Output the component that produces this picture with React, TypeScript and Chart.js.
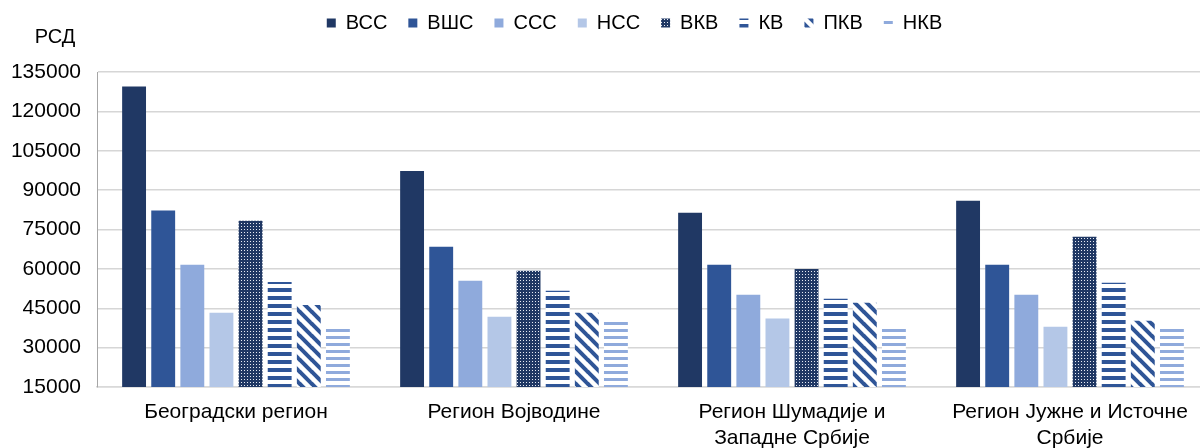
import React, { useEffect, useRef } from "react";
import { Chart, registerables } from "chart.js";

Chart.register(...registerables);

// ---- data ----
const categories: (string | string[])[] = [
  "Београдски регион",
  "Регион Војводине",
  ["Регион Шумадије и", "Западне Србије"],
  ["Регион Јужне и Источне", "Србије"],
];
const seriesNames = ["ВСС", "ВШС", "ССС", "НСС", "ВКВ", "КВ", "ПКВ", "НКВ"];
const vss = [129500, 97300, 81400, 86000];
const vshs = [82200, 68400, 61600, 61600];
const sss = [61600, 55500, 50100, 50100];
const nss = [43300, 41800, 41100, 38000];
const vkv = [78300, 59300, 60000, 72200];
const kv = [55000, 51700, 48600, 54700];
const pkv = [46200, 43300, 47100, 40200];
const nkv = [38000, 41000, 38300, 38300];
const yMin = 15000;
const yMax = 135000;
const yStep = 15000;
const unitLabel = "РСД";

const FONT = "'Liberation Sans', Arial, sans-serif";

function dotPattern(bg: string, fg: string) {
  const c = document.createElement("canvas");
  c.width = 3;
  c.height = 3;
  const x = c.getContext("2d")!;
  x.fillStyle = bg;
  x.fillRect(0, 0, 3, 3);
  x.fillStyle = fg;
  x.fillRect(1, 1, 1, 1);
  return x.createPattern(c, "repeat")!;
}

function stripePattern(color: string, period: number, thick: number) {
  const c = document.createElement("canvas");
  c.width = 4;
  c.height = period;
  const x = c.getContext("2d")!;
  x.fillStyle = "#ffffff";
  x.fillRect(0, 0, 4, period);
  x.fillStyle = color;
  x.fillRect(0, 0, 4, thick);
  return x.createPattern(c, "repeat")!;
}

function diagPattern(color: string, size: number, width: number) {
  const c = document.createElement("canvas");
  c.width = size;
  c.height = size;
  const x = c.getContext("2d")!;
  x.fillStyle = "#ffffff";
  x.fillRect(0, 0, size, size);
  x.strokeStyle = color;
  x.lineWidth = width;
  for (const k of [-1, 0, 1]) {
    x.beginPath();
    x.moveTo(-1, k * size - 1);
    x.lineTo(size + 1, size + k * size + 1);
    x.stroke();
  }
  return x.createPattern(c, "repeat")!;
}

export default function App() {
  const ref = useRef<HTMLCanvasElement | null>(null);

  useEffect(() => {
    if (!ref.current) return;
    const navy = "#203864";
    const blue = "#2F5597";
    const mid = "#8FAADC";
    const light = "#B4C7E7";
    const fills: any[] = [
      navy,
      blue,
      mid,
      light,
      dotPattern(navy, "#e8ecf4"),
      stripePattern(blue, 8, 4),
      diagPattern(blue, 12, 4),
      stripePattern(mid, 7, 3),
    ];
    const values = [vss, vshs, sss, nss, vkv, kv, pkv, nkv];

    const legendSizer = {
      id: "legendSizer",
      beforeInit(chart: any) {
        const orig = chart.legend.fit;
        chart.legend.fit = function () {
          orig.bind(chart.legend)();
          this.height = 72;
        };
      },
      afterLayout(chart: any) {
        const lg = chart.legend;
        if (!lg) return;
        lg.left += 30;
        lg.right += 30;
        lg.top -= 8;
        lg.bottom -= 8;
      },
      afterDraw(chart: any) {
        const ctx = chart.ctx;
        ctx.save();
        ctx.font = `20px ${FONT}`;
        ctx.fillStyle = "#000";
        ctx.textAlign = "center";
        ctx.textBaseline = "middle";
        ctx.fillText(unitLabel, 55, 37);
        ctx.restore();
      },
    };

    const chart = new Chart(ref.current, {
      type: "bar",
      data: {
        labels: categories as any,
        datasets: seriesNames.map((name, i) => ({
          label: name,
          data: values[i],
          backgroundColor: fills[i],
          borderWidth: 0,
          categoryPercentage: 0.838,
          barPercentage: 0.82,
        })),
      },
      options: {
        responsive: false,
        animation: false,
        devicePixelRatio: 1,
        layout: { padding: { left: 0, right: 1, top: 0, bottom: 0 } },
        plugins: {
          legend: {
            position: "top",
            labels: {
              boxWidth: 9,
              boxHeight: 9,
              padding: 21,
              color: "#000",
              font: { family: FONT, size: 20 },
            },
          },
          tooltip: { enabled: false },
        },
        scales: {
          x: {
            grid: { display: false, drawTicks: false },
            border: { display: true, color: "#d9d9d9", width: 1.5 },
            ticks: {
              color: "#000",
              font: { family: FONT, size: 21, lineHeight: 1.2 },
              padding: 13,
              maxRotation: 0,
              autoSkip: false,
            },
            afterFit(scale: any) {
              scale.height = 61;
            },
          },
          y: {
            min: yMin,
            max: yMax,
            grid: { color: "#d6d6d6", lineWidth: 1.5, drawTicks: false },
            border: { display: true, color: "#a6a6a6", width: 1 },
            ticks: {
              stepSize: yStep,
              color: "#000",
              font: { family: FONT, size: 21 },
              padding: 16,
              callback: (v: any) => String(v),
            },
            afterFit(scale: any) {
              scale.width = 97;
            },
          },
        },
      },
      plugins: [legendSizer],
    });
    return () => chart.destroy();
  }, []);

  return (
    <div
      style={{
        position: "absolute",
        left: 0,
        top: 0,
        width: 1200,
        height: 448,
        overflow: "hidden",
        background: "#ffffff",
      }}
    >
      <canvas ref={ref} width={1210} height={448} style={{ display: "block" }} />
    </div>
  );
}
